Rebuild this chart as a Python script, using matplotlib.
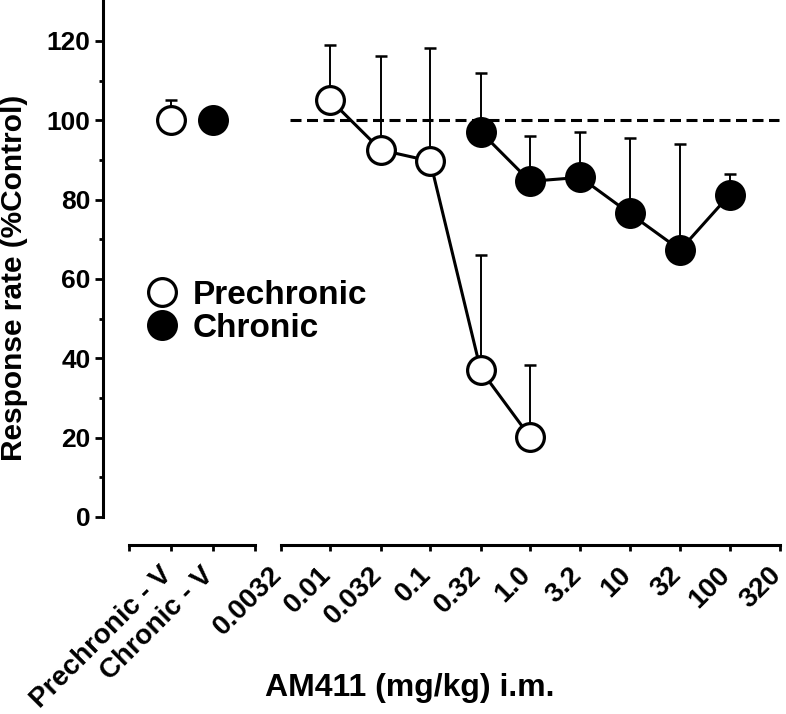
import numpy as np
import matplotlib
matplotlib.use("Agg")
import matplotlib.pyplot as plt
import matplotlib.transforms as mtransforms
from matplotlib.lines import Line2D

plt.rcParams['font.family'] = ['Liberation Sans', 'DejaVu Sans']
plt.rcParams['font.weight'] = 'bold'

# vehicle (left, categorical) part
veh_labels = ['', 'Prechronic - V', 'Chronic - V', '']
veh_pos = [1, 2]
veh_mean = [100.0, 100.0]
veh_sem = [5.2, 0.0]

# dose-effect part
dose_ticks = [0.0032, 0.01, 0.032, 0.1, 0.32, 1.0, 3.2, 10, 32, 100, 320]
dose_tick_labels = ['0.0032', '0.01', '0.032', '0.1', '0.32', '1.0', '3.2', '10', '32', '100', '320']

pre_dose = [0.01, 0.032, 0.1, 0.32, 1.0]
pre_mean = [105.1, 92.5, 89.7, 37.1, 20.2]
pre_sem = [13.8, 23.7, 28.6, 28.9, 18.1]

chr_dose = [0.32, 1.0, 3.2, 10, 32, 100]
chr_mean = [97.1, 84.6, 85.6, 76.5, 67.3, 81.2]
chr_sem = [14.7, 11.3, 11.5, 18.9, 26.6, 5.3]

control_level = 100
series_names = ['Prechronic', 'Chronic']

W, H = 786, 714
fig = plt.figure(figsize=(W / 100, H / 100), dpi=100)

y_bottom = (H - 517) / H
y_height = 517 / H
ax_l = fig.add_axes([129 / W, y_bottom, (255 - 129) / W, y_height])
ax_r = fig.add_axes([281 / W, y_bottom, (780 - 281) / W, y_height])

mk = dict(marker='o', markersize=20, markeredgewidth=2.3, markeredgecolor='black')
eb = dict(fmt='none', ecolor='black', elinewidth=1.4, capsize=4.2, capthick=1.8, zorder=1)

# vehicle points
ax_l.errorbar(veh_pos[:1], veh_mean[:1], yerr=[[0], veh_sem[:1]], **eb)
ax_l.plot(veh_pos[:1], veh_mean[:1], linestyle='none', markerfacecolor='white', zorder=3, **mk)
ax_l.plot(veh_pos[1:], veh_mean[1:], linestyle='none', markerfacecolor='black', zorder=3, **mk)

# dose-effect curves
ax_r.axhline(control_level, xmin=0.018, xmax=0.997, color='black', lw=2.2,
             linestyle=(0, (3.6, 1.8)), zorder=0)
ax_r.errorbar(pre_dose, pre_mean, yerr=[np.zeros(len(pre_sem)), pre_sem], **eb)
ax_r.errorbar(chr_dose, chr_mean, yerr=[np.zeros(len(chr_sem)), chr_sem], **eb)
ax_r.plot(pre_dose, pre_mean, color='black', lw=2.2, markerfacecolor='white', zorder=3, **mk)
ax_r.plot(chr_dose, chr_mean, color='black', lw=2.2, markerfacecolor='black', zorder=3, **mk)

shift = mtransforms.ScaledTranslation(-3 / 100, 0, fig.dpi_scale_trans)
for ax in (ax_l, ax_r):
    ax.set_ylim(0, 130.3)
    ax.patch.set_visible(False)
    ax.spines['top'].set_visible(False)
    ax.spines['right'].set_visible(False)
    ax.spines['bottom'].set_position(('outward', 20))
    ax.spines['bottom'].set_linewidth(2.2)
    ax.tick_params(axis='x', direction='out', length=4, width=2.0, labelsize=20, pad=15)
    for m in ax.lines:
        m.set_clip_on(False)

ax_l.set_xlim(0, 3)
ax_l.set_xticks(range(4))
ax_l.set_xticklabels(veh_labels, rotation=45, ha='right', va='center', rotation_mode='anchor')
ax_l.spines['left'].set_position(('outward', 18.7))
ax_l.spines['left'].set_linewidth(2.2)
ax_l.set_yticks(range(0, 121, 20))
ax_l.set_yticks(range(10, 121, 20), minor=True)
ax_l.tick_params(axis='y', which='major', length=6, width=2.0, labelsize=19, pad=3)
ax_l.tick_params(axis='y', which='minor', length=3, width=2.0)
ax_l.set_ylabel('Response rate (%Control)', fontsize=21.5, fontweight='bold')
ax_l.yaxis.set_label_coords(28 / W, 1 - 278 / H, transform=fig.transFigure)

ax_r.set_xscale('log')
ax_r.set_xlim(dose_ticks[0], dose_ticks[-1])
ax_r.set_xticks(dose_ticks)
ax_r.set_xticklabels(dose_tick_labels, rotation=45, ha='right', va='center', rotation_mode='anchor')
ax_r.minorticks_off()
ax_r.spines['left'].set_visible(False)
ax_r.tick_params(axis='y', left=False, labelleft=False)

for ax in (ax_l, ax_r):
    for lab in ax.get_xticklabels():
        lab.set_transform(lab.get_transform() + shift)

fig.text(410 / W, 1 - 688 / H, 'AM411 (mg/kg) i.m.', fontsize=23, fontweight='bold',
         ha='center', va='center')

# legend drawn by hand
legend_face = ['white', 'black']
legend_y = [292, 325]
for face, yy, name in zip(legend_face, legend_y, series_names):
    fig.add_artist(Line2D([162 / W], [1 - yy / H], transform=fig.transFigure,
                          linestyle='none', markerfacecolor=face, **mk))
    fig.text(193 / W, 1 - yy / H, name, fontsize=24, fontweight='bold',
             ha='left', va='center_baseline')

fig.savefig('out.png', dpi=100)
